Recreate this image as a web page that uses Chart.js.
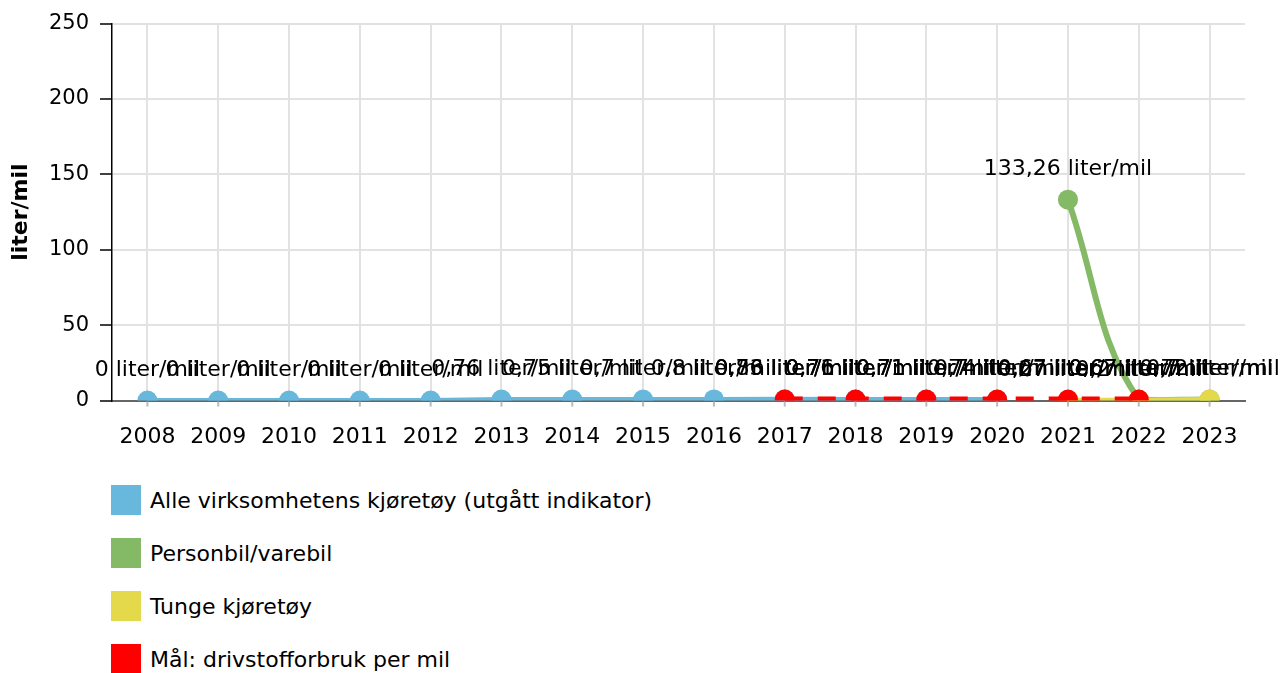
<!DOCTYPE html>
<html>
<head>
<meta charset="utf-8">
<script src="https://cdn.jsdelivr.net/npm/chart.js@4/dist/chart.umd.min.js"></script>
<style>
  body { margin: 0; background: #fff; font-family: "DejaVu Sans", Verdana, sans-serif; }
  #wrap { position: relative; width: 1283px; height: 673px; }
  #chart { position: absolute; left: 0; top: 0; }
  #legend { position: absolute; left: 111px; top: 485px; }
  .item { display: flex; align-items: center; height: 30px; margin-bottom: 23px; font-size: 22px; color: #000; }
  .box { width: 30px; height: 30px; margin-right: 9px; }
</style>
</head>
<body>
<div id="wrap">
  <canvas id="chart" width="1283" height="473"></canvas>
  <div id="legend"></div>
</div>
<script>
const years = ['2008', '2009', '2010', '2011', '2012', '2013', '2014', '2015', '2016', '2017', '2018', '2019', '2020', '2021', '2022', '2023'];
const seriesNames = ['Alle virksomhetens kjøretøy (utgått indikator)', 'Personbil/varebil', 'Tunge kjøretøy', 'Mål: drivstofforbruk per mil'];
const allVehicles = [0, 0, 0, 0, 0, 0.76, 0.75, 0.7, 0.8, 0.83, 0.76, 0.71, 0.74, null, null, null];
const carsVans = [null, null, null, null, null, null, null, null, null, null, null, null, null, 133.26, 0.67, 0.7];
const heavy = [null, null, null, null, null, null, null, null, null, null, null, null, null, 0.27, 0.2, 0.72];
const target = [null, null, null, null, null, null, null, null, null, 0.76, 0.71, 0.71, 0.7, 0.67, 0.67, null];
const yTicks = [0, 50, 100, 150, 200, 250];
const unit = 'liter/mil';

const colors = ['#68b7dc', '#84b965', '#e4d94a', '#ff0000'];
const font = '"DejaVu Sans", Verdana, sans-serif';

function fmt(v) {
  return String(v).replace('.', ',') + ' ' + unit;
}

// value labels above every point, plus the little tick marks under each year
const pointLabels = {
  id: 'pointLabels',
  afterDatasetsDraw(chart) {
    const ctx = chart.ctx;
    const x = chart.scales.x;
    ctx.save();
    ctx.strokeStyle = '#bbb';
    ctx.lineWidth = 2;
    years.forEach((y, i) => {
      const px = x.getPixelForValue(i);
      ctx.beginPath();
      ctx.moveTo(px, x.top + 1);
      ctx.lineTo(px, x.top + 6);
      ctx.stroke();
    });
    ctx.font = '22px ' + font;
    ctx.fillStyle = '#000';
    ctx.textAlign = 'center';
    ctx.textBaseline = 'middle';
    chart.data.datasets.forEach((ds, di) => {
      const meta = chart.getDatasetMeta(di);
      ds.data.forEach((v, i) => {
        if (v === null) return;
        const pt = meta.data[i];
        ctx.fillText(fmt(v), pt.x, pt.y - 30);
      });
    });
    ctx.restore();
  }
};

const datasets = [
  { label: seriesNames[0], data: allVehicles, borderColor: colors[0], backgroundColor: colors[0], borderWidth: 5, tension: 0, order: 4 },
  { label: seriesNames[1], data: carsVans, borderColor: colors[1], backgroundColor: colors[1], borderWidth: 6, tension: 0.4, order: 3 },
  { label: seriesNames[2], data: heavy, borderColor: colors[2], backgroundColor: colors[2], borderWidth: 5, tension: 0, order: 2 },
  { label: seriesNames[3], data: target, borderColor: colors[3], backgroundColor: colors[3], borderWidth: 6, borderDash: [18, 15], tension: 0, order: 1 }
];
datasets.forEach(d => {
  d.pointRadius = 10;
  d.pointBorderWidth = 0;
  d.pointBackgroundColor = d.borderColor;
});

new Chart(document.getElementById('chart'), {
  type: 'line',
  data: { labels: years, datasets: datasets },
  options: {
    responsive: false,
    animation: false,
    layout: { padding: { top: 14, right: 38, left: 0, bottom: 0 } },
    plugins: { legend: { display: false }, tooltip: { enabled: false } },
    scales: {
      x: {
        offset: true,
        grid: { color: '#e2e2e2', lineWidth: 2, drawTicks: false },
        border: { color: '#666', width: 2 },
        ticks: { color: '#000', font: { family: font, size: 22 }, padding: 23, maxRotation: 0 }
      },
      y: {
        min: 0,
        max: 250,
        afterBuildTicks: s => { s.ticks = yTicks.map(v => ({ value: v })); },
        afterFit: s => { s.width = 112; },
        grid: { color: '#e2e2e2', lineWidth: 2, tickColor: '#000', tickLength: 12, tickWidth: 1.5 },
        border: { color: '#000', width: 1.5 },
        ticks: { color: '#000', font: { family: font, size: 21 }, padding: 11 },
        title: { display: true, text: unit, color: '#000', font: { family: font, size: 22, weight: 'bold' }, padding: { top: 8, bottom: 0 } }
      }
    }
  },
  plugins: [pointLabels]
});

const legend = document.getElementById('legend');
seriesNames.forEach((name, i) => {
  const row = document.createElement('div');
  row.className = 'item';
  const box = document.createElement('span');
  box.className = 'box';
  box.style.background = colors[i];
  const txt = document.createElement('span');
  txt.textContent = name;
  row.appendChild(box);
  row.appendChild(txt);
  legend.appendChild(row);
});
</script>
</body>
</html>
